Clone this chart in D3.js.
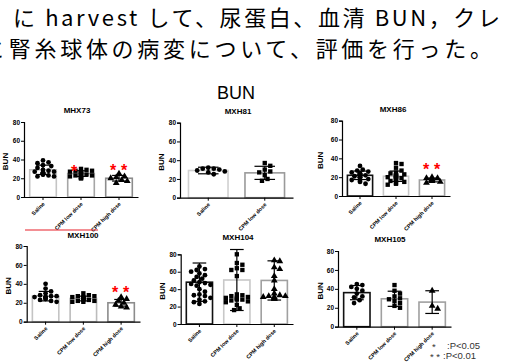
<!DOCTYPE html>
<html><head><meta charset="utf-8">
<script src="https://cdn.jsdelivr.net/npm/d3@7"></script>
<style>
html,body{margin:0;padding:0;background:#fff;overflow:hidden;}
svg{display:block;}
</style></head><body>
<svg id="chart" width="505" height="362"></svg>
<script>
// BUN by treatment group, six mouse strains — bars = mean, whiskers = SD, dots = animals
const groups = ['Saline', 'CPM low dose', 'CPM high dose'];
const panelNames = ['MHX73', 'MXH81', 'MXH86', 'MXH100', 'MXH104', 'MXH105'];
const yTicks = [0, 20, 40, 60, 80];

const barMeans = [
  [29, 25, 20],
  [29, 26.5],
  [22, 21, 17],
  [27, 24.5, 20],
  [48, 50.5, 50],
  [36, 29.5, 26]
];
const barSds = [
  [5, 3, 3],
  [3.5, 7],
  [4.5, 5.5, 2],
  [5, 2.5, 3.5],
  [22, 35, 22.5],
  [7.5, 8, 12]
];
const points = [
  [
    [39, 37, 36, 34, 33, 31, 29, 28, 27, 27, 26, 26, 26, 25, 25, 25, 24, 24, 23, 22, 22],
    [30, 29, 28, 28, 27, 27, 26, 26, 25, 25, 24, 24, 23, 23, 22, 22, 21, 21, 20, 20],
    [25, 22, 21, 20, 18, 17, 15]
  ],
  [
    [32, 31, 31, 30, 29, 28, 27, 25],
    [37, 34, 30, 28, 27, 24, 20, 18]
  ],
  [
    [32, 28, 27, 26, 25, 24, 24, 23, 23, 22, 22, 21, 21, 20, 20, 19, 18, 17, 16, 15, 13],
    [35, 34, 30, 27, 25, 24, 23, 22, 22, 21, 21, 20, 20, 19, 19, 18, 17, 16, 15, 14, 13, 12],
    [20, 19, 19, 18, 18, 17, 16, 15, 14]
  ],
  [
    [40, 35, 32, 30, 28, 27, 27, 26, 26, 25, 25, 24, 23, 22, 21, 26],
    [30, 28, 27, 27, 26, 26, 25, 25, 24, 24, 23, 23, 22, 22, 21, 21],
    [26, 24, 22, 20, 18, 16, 15]
  ],
  [
    [66, 63, 62, 60, 58, 56, 54, 52, 50, 48, 47, 46, 45, 44, 40, 37, 34, 33, 32, 30, 28, 26, 25, 23],
    [80, 70, 68, 64, 62, 62, 55, 34, 33, 32, 31, 30, 30, 29, 28, 28, 27, 26, 25, 22, 18, 16],
    [73, 72, 65, 63, 55, 50, 40, 35, 33, 32, 32, 31, 31, 30, 29, 29]
  ],
  [
    [45, 44, 42, 40, 38, 35, 32, 31, 28, 25],
    [44, 38, 35, 32, 30, 29, 27, 25, 22, 20],
    [38, 22, 19]
  ]
];
// significance marks: [panel index, group index, stars, value where they sit]
const sigMarks = [[0, 1, 1, 30], [0, 2, 2, 31], [2, 2, 2, 30.5], [3, 2, 2, 33]];

// frame of each panel on the slide (axis x start/end, y of 80 and 0)
const frames = [
  { x0: 24, x1: 138, yTop: 122, yBot: 197, tx: 77, ty: 113, lx: 8 },
  { x0: 180, x1: 293, yTop: 122.7, yBot: 197.7, tx: 238, ty: 114, lx: 164 },
  { x0: 342, x1: 450, yTop: 120.7, yBot: 196, tx: 393, ty: 112, lx: 323 },
  { x0: 26.7, x1: 140, yTop: 246, yBot: 321.7, tx: 83, ty: 238, lx: 11 },
  { x0: 180.7, x1: 293, yTop: 254.3, yBot: 324, tx: 238, ty: 240, lx: 165 },
  { x0: 338, x1: 451, yTop: 251, yBot: 326.7, tx: 390, ty: 242, lx: 323 }
];
const barStrokes = [
  ['#c4c4c4', '#a6a6a6', '#8c8c8c'],
  ['#d0d0d0', '#9a9a9a'],
  ['#111', '#c8c8c8', '#a0a0a0'],
  ['#c4c4c4', '#bcbcbc', '#8c8c8c'],
  ['#111', '#c8c8c8', '#a0a0a0'],
  ['#111', '#a0a0a0', '#a0a0a0']
];
const shapes = [d3.symbolCircle, d3.symbolSquare, d3.symbolTriangle];
const shapeSize = [18, 19, 20];

const svg = d3.select('#chart');
const FONT = '"Liberation Sans", Arial, sans-serif';

// slide text above the figure
const jp = svg.append('g').attr('font-family', '"Noto Sans CJK JP", sans-serif')
  .attr('font-size', 22).attr('fill', '#000');
jp.append('text').attr('x', 13).attr('y', 26)
  .attr('textLength', 487).attr('lengthAdjust', 'spacing')
  .text('に harvest して、尿蛋白、血清 BUN，クレ');
jp.append('text').attr('x', -17).attr('y', 57)
  .attr('textLength', 509).attr('lengthAdjust', 'spacing')
  .text('と腎糸球体の病変について、評価を行った。');

svg.append('text').attr('x', 236).attr('y', 99).attr('text-anchor', 'middle')
  .attr('font-family', FONT).attr('font-size', 18).text('BUN');

// simple deterministic beeswarm: nudge sideways until no overlap
function swarm(vals, y, cx, r, half) {
  const placed = [];
  const order = vals.map(v => ({ v, y: y(v) })).sort((a, b) => a.y - b.y);
  for (const p of order) {
    let off = 0;
    for (let k = 0; k < 30; k++) {
      const o = k === 0 ? 0 : (k % 2 ? 1 : -1) * Math.ceil(k / 2) * r * 1.15;
      if (Math.abs(o) > half) continue;
      if (placed.every(q => (q.x - (cx + o)) ** 2 + (q.y - p.y) ** 2 >= (1.7 * r) ** 2)) { off = o; break; }
    }
    placed.push({ x: cx + off, y: p.y });
  }
  return placed;
}

panelNames.forEach((name, pi) => {
  const f = frames[pi];
  const cats = groups.slice(0, barMeans[pi].length);
  const x = d3.scaleBand().domain(cats).range([f.x0, f.x1]).paddingInner(0.3).paddingOuter(0.15);
  const y = d3.scaleLinear().domain([0, 80]).range([f.yBot, f.yTop]);
  const g = svg.append('g');

  g.append('text').attr('x', f.tx).attr('y', f.ty).attr('text-anchor', 'middle')
    .attr('font-family', FONT).attr('font-weight', 'bold').attr('font-size', 8).text(name);

  g.append('text').attr('transform', `translate(${f.lx},${(f.yTop + f.yBot) / 2 + 2}) rotate(-90)`)
    .attr('text-anchor', 'middle').attr('font-family', FONT).attr('font-weight', 'bold')
    .attr('font-size', 8).text('BUN');

  // bars
  g.selectAll('rect').data(cats).join('rect')
    .attr('x', d => x(d)).attr('width', x.bandwidth())
    .attr('y', (d, i) => y(barMeans[pi][i]))
    .attr('height', (d, i) => y(0) - y(barMeans[pi][i]))
    .attr('fill', '#fff').attr('stroke', (d, i) => barStrokes[pi][i]).attr('stroke-width', 1.6);

  // dots
  cats.forEach((c, ci) => {
    const cx = x(c) + x.bandwidth() / 2;
    const pts = swarm(points[pi][ci], y, cx, 2.4, x.bandwidth() / 2 - 2);
    g.append('g').selectAll('path').data(pts).join('path')
      .attr('transform', d => `translate(${d.x},${d.y})`)
      .attr('d', d3.symbol(shapes[ci], shapeSize[ci]))
      .attr('fill', '#000');
  });

  // SD whiskers
  cats.forEach((c, ci) => {
    const cx = x(c) + x.bandwidth() / 2;
    const m = barMeans[pi][ci], s = barSds[pi][ci];
    const cap = x.bandwidth() * 0.26;
    const eb = g.append('g').attr('stroke', '#000').attr('stroke-width', 1.2);
    eb.append('line').attr('x1', cx).attr('x2', cx).attr('y1', y(m - s)).attr('y2', y(m + s));
    eb.append('line').attr('x1', cx - cap).attr('x2', cx + cap).attr('y1', y(m + s)).attr('y2', y(m + s));
    eb.append('line').attr('x1', cx - cap).attr('x2', cx + cap).attr('y1', y(m - s)).attr('y2', y(m - s));
  });

  // axes
  const ya = g.append('g').attr('transform', `translate(${f.x0},0)`)
    .call(d3.axisLeft(y).tickValues(yTicks).tickSize(3).tickPadding(1));
  ya.select('.domain').attr('stroke-width', 1.2);
  ya.selectAll('text').attr('font-family', FONT).attr('font-weight', 'bold').attr('font-size', 6.5);

  const xa = g.append('g').attr('transform', `translate(0,${f.yBot})`)
    .call(d3.axisBottom(x).tickSize(3).tickSizeOuter(0));
  xa.select('.domain').attr('stroke-width', 1.2);
  xa.selectAll('text').attr('font-family', FONT).attr('font-size', 5.5).attr('font-weight', 'bold')
    .attr('text-anchor', 'end').attr('dy', 0)
    .attr('transform', 'translate(-2,3) rotate(-45)');

  // significance stars
  sigMarks.filter(s => s[0] === pi).forEach(([, gi, n, v]) => {
    const cx = x(cats[gi]) + x.bandwidth() / 2;
    const offs = n === 1 ? [-7] : [-6, 5];
    offs.forEach(o => g.append('text').attr('x', cx + o).attr('y', y(v) + 8)
      .attr('text-anchor', 'middle').attr('font-family', FONT).attr('font-weight', 'bold')
      .attr('font-size', 16).attr('fill', '#f00').text('*'));
  });
});

// stray red rule from the slide
svg.append('line').attr('x1', 25).attr('x2', 98).attr('y1', 230).attr('y2', 230)
  .attr('stroke', '#e8212a').attr('stroke-width', 1.2);

// p-value key
const key = svg.append('g').attr('font-family', FONT).attr('font-size', 9.5).attr('fill', '#333');
key.append('text').attr('x', 432).attr('y', 350).text('*');
key.append('text').attr('x', 447).attr('y', 349).text(':P<0.05');
key.append('text').attr('x', 430).attr('y', 360).text('* *');
key.append('text').attr('x', 443).attr('y', 359).text(':P<0.01');
</script></body></html>
